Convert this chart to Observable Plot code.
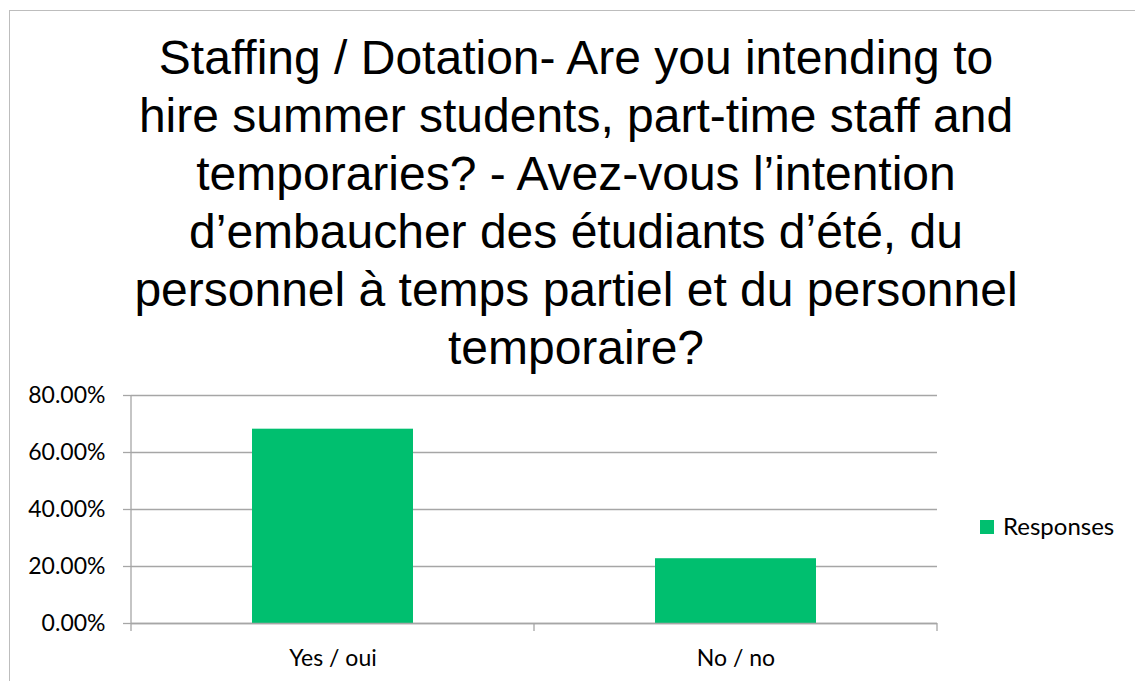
<!DOCTYPE html>
<html><head><meta charset="utf-8">
<script src="https://cdn.jsdelivr.net/npm/d3@7"></script>
<script src="https://cdn.jsdelivr.net/npm/@observablehq/plot@0.6"></script>
<style>
body{margin:0;background:#fff;}
#wrap{position:relative;width:1135px;height:681px;overflow:hidden;background:#fff;}
#frame{position:absolute;left:9px;top:10px;width:1200px;height:700px;border-left:1.5px solid #bdbdbd;border-top:1.5px solid #bdbdbd;}
#title{position:absolute;left:0;top:29px;width:1152px;text-align:center;font-family:"Liberation Sans",Arial,sans-serif;font-size:48px;line-height:58px;color:#000;}
#chart{position:absolute;left:0;top:375px;}
#legend{position:absolute;left:980px;top:514px;font-family:Lato,sans-serif;font-size:24px;line-height:24px;color:#000;white-space:nowrap;}
#legend .sw{position:absolute;left:0;top:6px;width:14px;height:14px;}
#legend .lb{position:absolute;left:23px;top:0;}
</style>
</head><body>
<div id="wrap">
  <div id="frame"></div>
  <div id="title"></div>
  <div id="chart"></div>
  <div id="legend"></div>
</div>
<script>
const titleLines = [
  "Staffing / Dotation- Are you intending to",
  "hire summer students, part-time staff and",
  "temporaries? - Avez-vous l’intention",
  "d’embaucher des étudiants d’été, du",
  "personnel à temps partiel et du personnel",
  "temporaire?"
];
const categories = ["Yes / oui", "No / no"];
const responses = [0.6818, 0.2273];
const yTicks = [0, 0.2, 0.4, 0.6, 0.8];
const seriesName = "Responses";
const barColor = "#00bf6f";
const gridColor = "#a6a6a6";

document.getElementById("title").innerHTML = titleLines.join("<br>");

const data = categories.map((c, i) => ({cat: c, value: responses[i]}));

function boundaryTicks(index, scales, values, dims) {
  const g = d3.create("svg:g").attr("stroke", gridColor).attr("stroke-width", 1.3);
  const x = scales.x, bw = x.bandwidth(), step = x.step();
  const y0 = scales.y(0);
  const xs = [dims.marginLeft,
    ...categories.slice(0, -1).map(c => x(c) + bw + (step - bw) / 2),
    dims.width - dims.marginRight];
  xs.forEach(v => g.append("line").attr("x1", v).attr("x2", v).attr("y1", y0).attr("y2", y0 + 8));
  g.append("line").attr("x1", dims.marginLeft).attr("x2", dims.marginLeft)
    .attr("y1", dims.marginTop).attr("y2", y0);
  return g.node();
}

const chart = Plot.plot({
  width: 1135,
  height: 306,
  marginLeft: 131,
  marginRight: 198,
  marginTop: 20,
  marginBottom: 58,
  style: {fontFamily: "Lato, sans-serif", fontSize: "23px", color: "#000", background: "transparent"},
  x: {domain: categories, paddingInner: 0.6, paddingOuter: 0.3, axis: null},
  y: {domain: [0, 0.8], axis: null},
  marks: [
    Plot.ruleY(yTicks, {stroke: gridColor, strokeWidth: 1.3}),
    Plot.barY(data, {x: "cat", y: "value", fill: barColor}),
    Plot.ruleY([0], {stroke: gridColor, strokeWidth: 1.3}),
    Plot.axisY({ticks: yTicks, tickFormat: d3.format(".2%"), tickSize: 8, tickPadding: 18,
      stroke: gridColor, strokeWidth: 1.3, fill: "#000", fontSize: 23, label: null}),
    Plot.axisX({tickSize: 0, tickPadding: 26, fill: "#000", fontSize: 23, label: null}),
    boundaryTicks
  ]
});
document.getElementById("chart").appendChild(chart);

const lg = document.getElementById("legend");
lg.innerHTML = `<span class="sw" style="background:${barColor}"></span><span class="lb">${seriesName}</span>`;
</script>
</body></html>
